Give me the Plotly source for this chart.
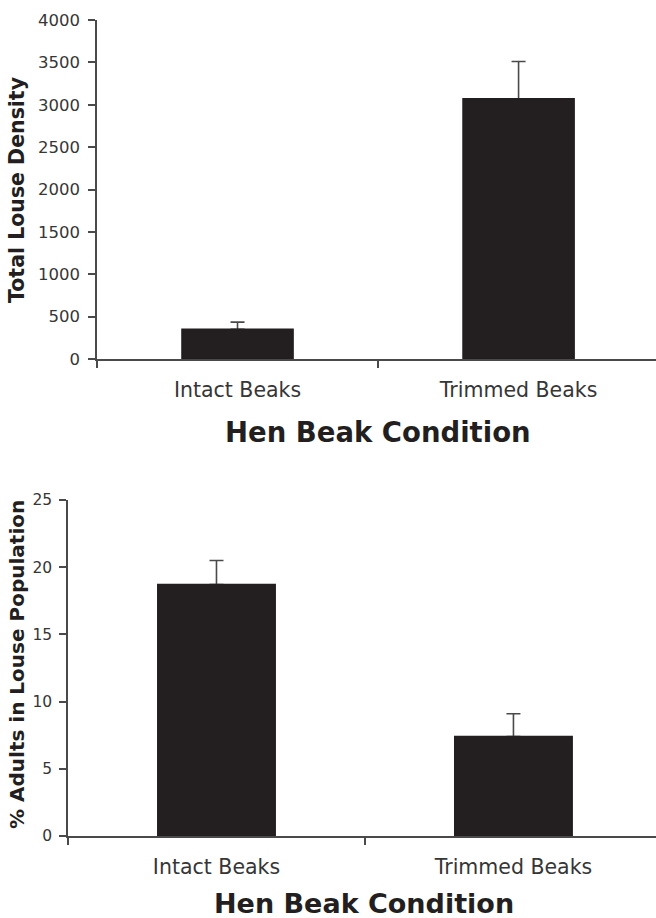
import plotly.graph_objects as go

categories = ["Intact Beaks", "Trimmed Beaks"]
density_values = [350, 3070]
density_errors = [85, 440]
adult_pct_values = [18.7, 7.4]
adult_pct_errors = [1.8, 1.7]
density_ticks = [0, 500, 1000, 1500, 2000, 2500, 3000, 3500, 4000]
pct_ticks = [0, 5, 10, 15, 20, 25]

W, H = 656, 918
BAR = "#231f20"
AX = "#4a4a4a"
TXT = "#363636"
FONT = "DejaVu Sans"

fig = go.Figure()


def add_panel(values, errors, xa, ya):
    # bar carrying the (upward) error bar
    fig.add_trace(go.Bar(
        x=categories, y=values, xaxis=xa, yaxis=ya,
        marker=dict(color=BAR, line=dict(width=0)),
        error_y=dict(type="data", symmetric=False, array=errors,
                     arrayminus=[0] * len(errors), color=AX,
                     thickness=1.6, width=7),
        showlegend=False, hoverinfo="skip"))
    # same bar drawn again on top so the lower cap is hidden
    fig.add_trace(go.Bar(
        x=categories, y=values, xaxis=xa, yaxis=ya,
        marker=dict(color=BAR, line=dict(width=1.6, color=BAR)),
        showlegend=False))


add_panel(density_values, density_errors, "x", "y")
add_panel(adult_pct_values, adult_pct_errors, "x2", "y2")


def px_x(p):
    return p / W


def px_y(p):
    return 1 - p / H


common_x = dict(type="category", showline=True, linecolor=AX, linewidth=1.5,
                ticks="outside", tickson="boundaries", ticklen=7, tickcolor=AX,
                tickwidth=1.5, showgrid=False, zeroline=False,
                automargin=False, ticklabelstandoff=12,
                tickfont=dict(family=FONT, size=20.5, color=TXT))
common_y = dict(showline=True, linecolor=AX, linewidth=1.5, ticks="outside",
                ticklen=7, tickcolor=AX, tickwidth=1.5, showgrid=False,
                zeroline=False, automargin=False)

fig.update_layout(
    width=W, height=H,
    margin=dict(l=0, r=0, t=0, b=0, pad=0, autoexpand=False),
    paper_bgcolor="white", plot_bgcolor="white",
    barmode="overlay",
    bargap=0.605,
    xaxis=dict(**common_x, domain=[px_x(97), 1], range=[-0.5, 1.489],
               anchor="y"),
    yaxis=dict(**common_y, domain=[px_y(359), px_y(20)], range=[0, 4000],
               tickvals=density_ticks, anchor="x", ticklabelstandoff=5,
               tickfont=dict(family=FONT, size=16.5, color=TXT)),
    xaxis2=dict(**common_x, domain=[px_x(68), 1], range=[-0.5, 1.48],
                anchor="y2"),
    yaxis2=dict(**common_y, domain=[px_y(836), px_y(500)], range=[0, 25],
                tickvals=pct_ticks, anchor="x2", ticklabelstandoff=4,
                tickfont=dict(family=FONT, size=15.5, color=TXT)),
    annotations=[
        dict(text="<b>Total Louse Density</b>", x=px_x(17), y=px_y(190),
             xref="paper", yref="paper", xanchor="center", yanchor="middle",
             textangle=-90, showarrow=False,
             font=dict(family=FONT, size=20.5, color=BAR)),
        dict(text="<b>Hen Beak Condition</b>", x=px_x(378), y=px_y(432),
             xref="paper", yref="paper", xanchor="center", yanchor="middle",
             showarrow=False, font=dict(family=FONT, size=27.5, color=BAR)),
        dict(text="<b>% Adults in Louse Population</b>", x=px_x(17),
             y=px_y(665), xref="paper", yref="paper", xanchor="center",
             yanchor="middle", textangle=-90, showarrow=False,
             font=dict(family=FONT, size=20, color=BAR)),
        dict(text="<b>Hen Beak Condition</b>", x=px_x(364), y=px_y(903),
             xref="paper", yref="paper", xanchor="center", yanchor="middle",
             showarrow=False, font=dict(family=FONT, size=27, color=BAR)),
    ],
)

fig.write_html("out.html")
